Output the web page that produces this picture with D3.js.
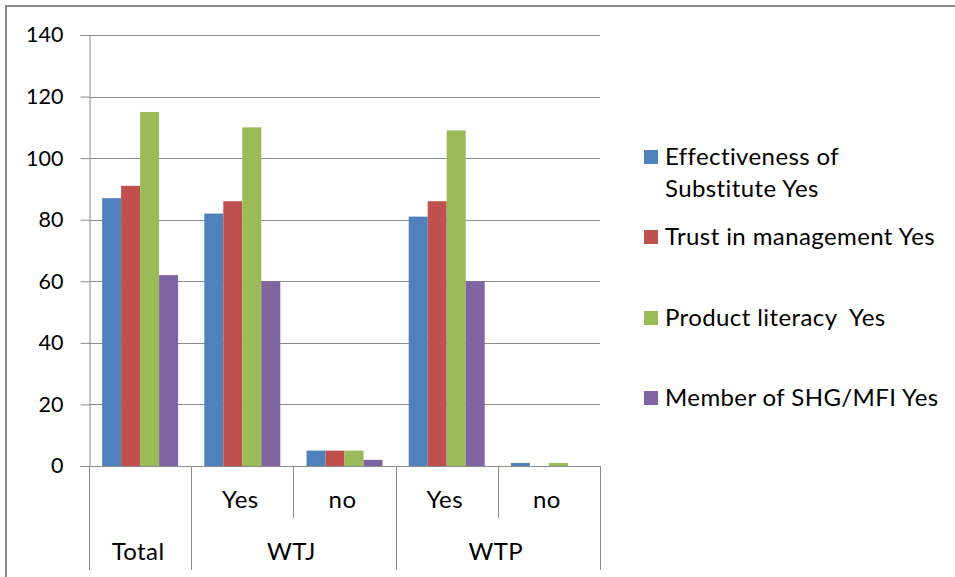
<!DOCTYPE html>
<html><head><meta charset="utf-8">
<script src="https://cdn.jsdelivr.net/npm/d3@7"></script>
<style>body{margin:0;background:#fff}svg{display:block}text{font-family:Lato,"Open Sans",sans-serif;fill:#000}</style>
</head><body><svg id="c" width="955" height="577"></svg>
<script>
const groups = ["Total","WTJ","WTJ","WTP","WTP"];
const subLabels = ["","Yes","no","Yes","no"];
const seriesNames = ["Effectiveness of Substitute Yes","Trust in management Yes","Product literacy  Yes","Member of SHG/MFI Yes"];
const effectiveness = [87,82,5,81,1];
const trust = [91,86,5,86,0];
const literacy = [115,110,5,109,1];
const member = [62,60,2,60,0];
const colors = ["#4F81BD","#C0504D","#9BBB59","#8064A2"];
const yTicks = [0,20,40,60,80,100,120,140];

const series = [effectiveness,trust,literacy,member];
const svg = d3.select("#c");
const L=89,R=600,T=35,B=466;
const x = d3.scaleBand().domain(d3.range(5)).range([L,R]).paddingInner(0).paddingOuter(0);
const x1 = d3.scaleBand().domain(d3.range(4)).range([0,x.bandwidth()]).paddingOuter(0.69).paddingInner(0);
const y = d3.scaleLinear().domain([0,140]).range([B,T]);

// outer border
svg.append("line").attr("x1",5).attr("x2",955).attr("y1",6).attr("y2",6).attr("stroke","#888").attr("stroke-width",2);
svg.append("line").attr("x1",6).attr("x2",6).attr("y1",5).attr("y2",577).attr("stroke","#888").attr("stroke-width",2);

// gridlines
svg.append("g").selectAll("line").data(yTicks.slice(1)).join("line")
 .attr("x1",L).attr("x2",R).attr("y1",d=>Math.round(y(d))+0.5).attr("y2",d=>Math.round(y(d))+0.5)
 .attr("stroke","#8c8c8c").attr("stroke-width",1);

// y axis
const ya = svg.append("g").attr("transform",`translate(${L+0.5},0)`)
 .call(d3.axisLeft(y).tickValues(yTicks).tickSize(9).tickPadding(17).tickFormat(d3.format("d")));
ya.select(".domain").attr("stroke","#8c8c8c");
ya.selectAll(".tick line").attr("stroke","#8c8c8c");
ya.selectAll("text").attr("font-size",21.5).attr("font-family","Lato,sans-serif").attr("fill","#000");

// bars
series.forEach((s,si)=>{
 svg.append("g").selectAll("rect").data(s).join("rect")
  .attr("x",(d,i)=>x(i)+x1(si)).attr("width",x1.bandwidth())
  .attr("y",d=>y(d)).attr("height",d=>B-y(d)).attr("fill",colors[si]);
});

// baseline
svg.append("line").attr("x1",L).attr("x2",R).attr("y1",B+0.5).attr("y2",B+0.5).attr("stroke","#8c8c8c");

// category table lines
const bounds = [0,1,2,3,4].map(i=>x(i)).concat([R]);
const outer = [0,1,3,5];
bounds.forEach((bx,i)=>{
 const long = outer.includes(i);
 svg.append("line").attr("x1",Math.round(bx)+0.5).attr("x2",Math.round(bx)+0.5)
  .attr("y1",B).attr("y2",long?570:518).attr("stroke","#8c8c8c");
});
const fs = 24, ls = 0.4;
// sub labels
svg.append("g").selectAll("text").data(subLabels).join("text")
 .attr("x",(d,i)=>x(i)+x.bandwidth()/2-2).attr("y",508).attr("text-anchor","middle")
 .attr("font-size",fs).attr("letter-spacing",ls).text(d=>d);
// group labels
const gInfo = [];
groups.forEach((g,i)=>{const last=gInfo[gInfo.length-1]; if(last&&last.g===g){last.e=i;} else gInfo.push({g,s:i,e:i});});
svg.append("g").selectAll("text").data(gInfo).join("text")
 .attr("x",d=>(x(d.s)+x(d.e)+x.bandwidth())/2-2).attr("y",560).attr("text-anchor","middle")
 .attr("font-size",fs).attr("letter-spacing",ls).text(d=>d.g);

// legend
const legY = [157,237,318,398];
const lg = svg.append("g");
seriesNames.forEach((n,i)=>{
 lg.append("rect").attr("x",644).attr("y",legY[i]-7).attr("width",14).attr("height",14).attr("fill",colors[i]);
 const t = lg.append("text").attr("x",665).attr("y",legY[i]+8).attr("font-size",fs).attr("letter-spacing",ls);
 if(i===0){
  t.append("tspan").attr("x",665).text("Effectiveness of");
  t.append("tspan").attr("x",665).attr("dy",32).text("Substitute Yes");
 } else t.text(n).style("white-space","pre");
});
</script></body></html>
